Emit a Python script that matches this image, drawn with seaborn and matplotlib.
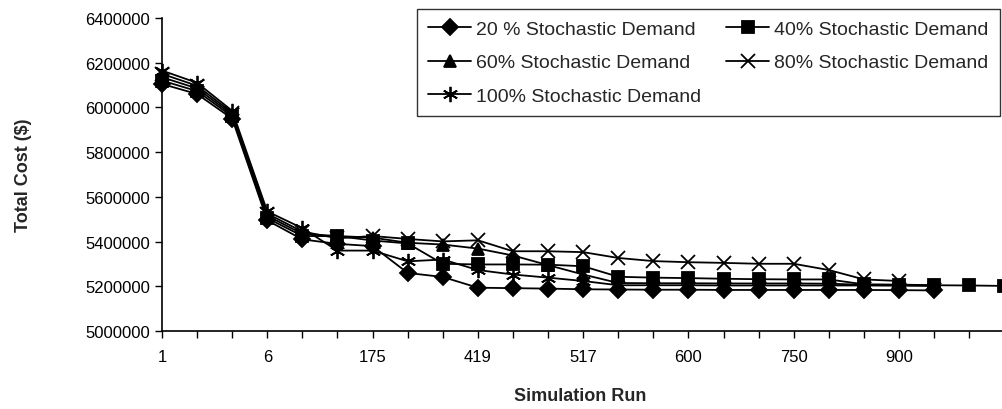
import matplotlib
matplotlib.use("Agg")
import matplotlib.pyplot as plt
import seaborn as sns
import numpy as np

# ---- data ----
tick_labels = ['1', '6', '175', '419', '517', '600', '750', '900']
series_names = ['20 % Stochastic Demand', '40% Stochastic Demand',
                '60% Stochastic Demand', '80% Stochastic Demand',
                '100% Stochastic Demand']
s20 = [6105000, 6060000, 5950000, 5495000, 5410000, 5390000, 5380000, 5260000,
       5242000, 5194000, 5192000, 5190000, 5187000, 5186000, 5185000, 5185000,
       5184000, 5184000, 5184000, 5184000, 5184000, 5183000, 5182000]
s40 = [6120000, 6073000, 5960000, 5505000, 5425000, 5425000, 5405000, 5392000,
       5301000, 5298000, 5298000, 5297000, 5290000, 5243000, 5239000, 5237000,
       5234000, 5232000, 5231000, 5231000, 5209000, 5208000, 5205000, 5204000,
       5202000]
s60 = [6135000, 6085000, 5968000, 5515000, 5435000, 5425000, 5418000, 5395000,
       5387000, 5369000, 5338000, 5295000, 5253000, 5215000, 5214000, 5214000,
       5213000, 5213000, 5213000, 5212000, 5207000, 5206000, 5204000]
s80 = [6150000, 6097000, 5976000, 5525000, 5445000, 5415000, 5425000, 5412000,
       5401000, 5406000, 5357000, 5357000, 5353000, 5327000, 5313000, 5308000,
       5305000, 5301000, 5301000, 5273000, 5231000, 5224000]
s100 = [6165000, 6110000, 5985000, 5535000, 5460000, 5360000, 5360000, 5312000,
        5320000, 5273000, 5253000, 5239000, 5224000, 5205000, 5205000, 5205000,
        5204000, 5204000, 5204000, 5204000, 5204000, 5203000, 5202000]
y_ticks = [5000000, 5200000, 5400000, 5600000, 5800000, 6000000, 6200000, 6400000]

# ---- style ----
sns.set_style("ticks")
plt.rcParams['font.family'] = ['Liberation Sans', 'DejaVu Sans']

fig = plt.figure(figsize=(10.03, 4.10), dpi=100)
ax = fig.add_axes([0.1615, 0.19, 0.8385, 0.7637])

markers = ['D', 's', '^', 'x', (6, 2, 0)]
msizes = [8, 8, 9, 10, 11]
all_series = [s20, s40, s60, s80, s100]
for name, vals, mk, ms in zip(series_names, all_series, markers, msizes):
    xs = np.arange(len(vals))
    sns.lineplot(x=xs, y=vals, ax=ax, color='black', linewidth=1.3,
                 marker=mk, markersize=ms, markeredgecolor='black',
                 markerfacecolor='black', markeredgewidth=1.3,
                 label=name, clip_on=False, legend=False)

lines = ax.get_lines()

ax.set_xlim(0, 23.96)
ax.set_ylim(5000000, 6400000)
ax.set_yticks(y_ticks)
ax.set_yticklabels([str(v) for v in y_ticks], fontsize=12)
n_ticks = 24
ax.set_xticks(np.arange(n_ticks))
xl = [''] * n_ticks
for i, t in enumerate(tick_labels):
    xl[i * 3] = t
ax.set_xticklabels(xl, fontsize=12)
ax.tick_params(axis='both', direction='out', length=5, width=1, color='black',
               labelcolor='black')
ax.tick_params(axis='x', pad=8)

for sp in ['top', 'right']:
    ax.spines[sp].set_visible(False)
for sp in ['left', 'bottom']:
    ax.spines[sp].set_color('black')
    ax.spines[sp].set_linewidth(1.2)

ax.set_xlabel('Simulation Run', fontsize=13, fontweight='bold')
ax.set_ylabel('Total Cost ($)', fontsize=13, fontweight='bold')
ax.xaxis.set_label_coords(0.497, -0.178)
ax.yaxis.set_label_coords(-0.155, 0.5)

order = [0, 2, 4, 1, 3]
leg = ax.legend([lines[i] for i in order], [series_names[i] for i in order],
                ncol=2, loc='upper right', bbox_to_anchor=(0.9965, 1.029),
                borderaxespad=0.0,
                frameon=True, fancybox=False, edgecolor='black', fontsize=14,
                handlelength=2.2, handletextpad=0.25, columnspacing=1.3,
                labelspacing=0.8, borderpad=0.6)
leg.get_frame().set_linewidth(1.0)

fig.savefig('out.png', dpi=100)
